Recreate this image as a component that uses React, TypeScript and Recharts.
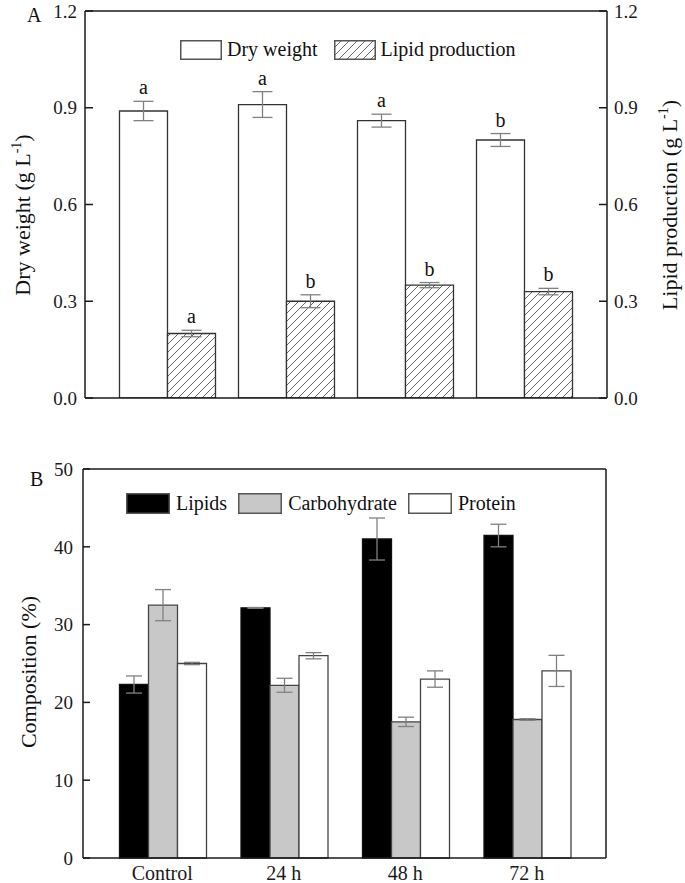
import React from 'react';
import { ComposedChart, Bar, XAxis, YAxis, ErrorBar, LabelList, Legend } from 'recharts';

const categories = ['Control', '24 h', '48 h', '72 h'];

const dryWeight = [0.89, 0.91, 0.86, 0.8];
const dryWeightErr = [0.03, 0.04, 0.02, 0.02];
const dryWeightLetters = ['a', 'a', 'a', 'b'];

const lipidProduction = [0.2, 0.3, 0.35, 0.33];
const lipidProductionErr = [0.01, 0.02, 0.008, 0.01];
const lipidProductionLetters = ['a', 'b', 'b', 'b'];

const lipids = [22.3, 32.15, 41.0, 41.45];
const lipidsErr = [1.1, 0.05, 2.7, 1.45];
const carbohydrate = [32.5, 22.2, 17.5, 17.8];
const carbohydrateErr = [2.0, 0.9, 0.6, 0.1];
const protein = [25.0, 26.0, 23.0, 24.05];
const proteinErr = [0.15, 0.4, 1.05, 2.0];

const ticksA = [0, 0.3, 0.6, 0.9, 1.2];
const ticksB = [0, 10, 20, 30, 40, 50];

const seriesNamesA = ['Dry weight', 'Lipid production'];
const seriesNamesB = ['Lipids', 'Carbohydrate', 'Protein'];

const dataA = categories.map((cat, i) => ({
  cat,
  dw: dryWeight[i],
  dwErr: dryWeightErr[i],
  lp: lipidProduction[i],
  lpErr: lipidProductionErr[i],
}));

const dataB = categories.map((cat, i) => ({
  cat,
  lipids: lipids[i],
  lipidsErr: lipidsErr[i],
  carb: carbohydrate[i],
  carbErr: carbohydrateErr[i],
  protein: protein[i],
  proteinErr: proteinErr[i],
}));

const FONT = 'Liberation Serif, serif';
const AXIS = '#1a1a1a';
const ERR = '#808080';

const makeLetterLabel = (letters: string[], errs: number[]) => (props: any) => {
  const { x, y, width, height, value, index } = props;
  if (value == null || !height) return null;
  const pxPerUnit = Number(height) / Number(value);
  const top = Number(y) - errs[index] * pxPerUnit;
  return (
    <text
      x={Number(x) + Number(width) / 2}
      y={top - 7}
      textAnchor="middle"
      fontFamily={FONT}
      fontSize={20}
      fill="#111"
    >
      {letters[index]}
    </text>
  );
};

const Swatch = ({ w, h, fill, hatch }: { w: number; h: number; fill: string; hatch?: boolean }) => (
  <svg width={w} height={h} style={{ display: 'block' }}>
    {hatch && (
      <defs>
        <pattern id="hatchLegend" patternUnits="userSpaceOnUse" width="8" height="8">
          <rect width="8" height="8" fill="#fff" />
          <path d="M0,8 L8,0 M-2,2 L2,-2 M6,10 L10,6" stroke="#555" strokeWidth="0.9" />
        </pattern>
      </defs>
    )}
    <rect x={0.75} y={0.75} width={w - 1.5} height={h - 1.5} fill={hatch ? 'url(#hatchLegend)' : fill} stroke="#555" strokeWidth={1.5} />
  </svg>
);

const LegendA = () => (
  <div style={{ display: 'flex', alignItems: 'center', fontFamily: FONT, fontSize: 20, color: '#111', whiteSpace: 'nowrap' }}>
    <Swatch w={42} h={20} fill="#fff" />
    <span style={{ marginLeft: 5, marginRight: 16 }}>{seriesNamesA[0]}</span>
    <Swatch w={42} h={20} fill="#fff" hatch />
    <span style={{ marginLeft: 5 }}>{seriesNamesA[1]}</span>
  </div>
);

const LegendB = () => (
  <div style={{ display: 'flex', alignItems: 'center', fontFamily: FONT, fontSize: 20, color: '#111', whiteSpace: 'nowrap' }}>
    <Swatch w={44} h={21} fill="#000" />
    <span style={{ marginLeft: 6, marginRight: 11 }}>{seriesNamesB[0]}</span>
    <Swatch w={44} h={21} fill="#c8c8c8" />
    <span style={{ marginLeft: 6, marginRight: 11 }}>{seriesNamesB[1]}</span>
    <Swatch w={44} h={21} fill="#fff" />
    <span style={{ marginLeft: 6 }}>{seriesNamesB[2]}</span>
  </div>
);

const tickStyle = { fontSize: 19, fill: '#1a1a1a', fontFamily: FONT };
const axisLine = { stroke: AXIS, strokeWidth: 1.5 };

export default function App() {
  return (
    <div style={{ position: 'absolute', left: 0, top: 0, width: 685, height: 883, background: '#fff', fontFamily: FONT }}>
      <div style={{ position: 'absolute', left: 0, top: 0 }}>
        <ComposedChart
          width={685}
          height={415}
          data={dataA}
          margin={{ top: 10, right: 18, bottom: 16, left: 25 }}
          barCategoryGap={11.5}
          barGap={0}
        >
          <defs>
            <pattern id="hatchA" patternUnits="userSpaceOnUse" width="8" height="8">
              <rect width="8" height="8" fill="#fff" />
              <path d="M0,8 L8,0 M-2,2 L2,-2 M6,10 L10,6" stroke="#555" strokeWidth="0.9" />
            </pattern>
          </defs>
          <XAxis
            dataKey="cat"
            padding={{ left: 23, right: 23 }}
            tick={false}
            tickLine={false}
            height={1}
            axisLine={axisLine}
          />
          <XAxis
            xAxisId="top"
            dataKey="cat"
            orientation="top"
            padding={{ left: 23, right: 23 }}
            tick={false}
            tickLine={false}
            height={1}
            axisLine={axisLine}
          />
          <YAxis
            yAxisId="left"
            domain={[0, 1.2]}
            ticks={ticksA}
            tickFormatter={(v: number) => v.toFixed(1)}
            width={60}
            tickSize={-8}
            tickMargin={16}
            tick={tickStyle}
            tickLine={axisLine}
            axisLine={axisLine}
            allowDataOverflow
          />
          <YAxis
            yAxisId="right"
            orientation="right"
            domain={[0, 1.2]}
            ticks={ticksA}
            tickFormatter={(v: number) => v.toFixed(1)}
            width={60}
            tickSize={-8}
            tickMargin={15}
            tick={tickStyle}
            tickLine={axisLine}
            axisLine={axisLine}
            allowDataOverflow
          />
          <Legend
            layout="horizontal"
            verticalAlign="middle"
            align="center"
            content={LegendA}
            wrapperStyle={{ top: 38, left: 180, width: 'auto' }}
          />
          <Bar yAxisId="left" dataKey="dw" name={seriesNamesA[0]} fill="#fff" stroke="#333" strokeWidth={1.3} isAnimationActive={false}>
            <ErrorBar dataKey="dwErr" width={10} stroke={ERR} strokeWidth={1.3} />
            <LabelList dataKey="dw" content={makeLetterLabel(dryWeightLetters, dryWeightErr)} />
          </Bar>
          <Bar yAxisId="right" dataKey="lp" name={seriesNamesA[1]} fill="url(#hatchA)" stroke="#333" strokeWidth={1.3} isAnimationActive={false}>
            <ErrorBar dataKey="lpErr" width={10} stroke={ERR} strokeWidth={1.3} />
            <LabelList dataKey="lp" content={makeLetterLabel(lipidProductionLetters, lipidProductionErr)} />
          </Bar>
        </ComposedChart>
      </div>

      <div style={{ position: 'absolute', left: 0, top: 420 }}>
        <ComposedChart
          width={685}
          height={463}
          data={dataB}
          margin={{ top: 48, right: 78, bottom: 0, left: 23 }}
          barCategoryGap={18}
          barGap={0}
        >
          <XAxis
            dataKey="cat"
            padding={{ left: 18.5, right: 18.5 }}
            tickLine={false}
            tickSize={0}
            tickMargin={8}
            height={25}
            tick={{ fontSize: 20, fill: '#1a1a1a', fontFamily: FONT }}
            axisLine={axisLine}
          />
          <XAxis
            xAxisId="top"
            dataKey="cat"
            orientation="top"
            padding={{ left: 18.5, right: 18.5 }}
            tick={false}
            tickLine={false}
            height={1}
            axisLine={axisLine}
          />
          <YAxis
            domain={[0, 50]}
            ticks={ticksB}
            width={60}
            tickSize={-7}
            tickMargin={17}
            tick={tickStyle}
            tickLine={axisLine}
            axisLine={axisLine}
          />
          <YAxis
            yAxisId="r"
            orientation="right"
            domain={[0, 50]}
            width={1}
            tick={false}
            tickLine={false}
            axisLine={axisLine}
          />
          <Legend
            layout="horizontal"
            verticalAlign="middle"
            align="center"
            content={LegendB}
            wrapperStyle={{ top: 72, left: 126, width: 'auto' }}
          />
          <Bar dataKey="lipids" name={seriesNamesB[0]} fill="#000" stroke="#111" strokeWidth={1.3} isAnimationActive={false}>
            <ErrorBar dataKey="lipidsErr" width={8} stroke={ERR} strokeWidth={1.3} />
          </Bar>
          <Bar dataKey="carb" name={seriesNamesB[1]} fill="#c8c8c8" stroke="#444" strokeWidth={1.3} isAnimationActive={false}>
            <ErrorBar dataKey="carbErr" width={8} stroke={ERR} strokeWidth={1.3} />
          </Bar>
          <Bar dataKey="protein" name={seriesNamesB[2]} fill="#fff" stroke="#444" strokeWidth={1.3} isAnimationActive={false}>
            <ErrorBar dataKey="proteinErr" width={8} stroke={ERR} strokeWidth={1.3} />
          </Bar>
        </ComposedChart>
      </div>

      <svg width={685} height={883} style={{ position: 'absolute', left: 0, top: 0, pointerEvents: 'none' }}>
        <g fontFamily={FONT} fill="#111">
          <text x={27} y={22} fontSize={20}>A</text>
          <text x={30} y={486} fontSize={20}>B</text>
          <text transform="translate(30,215) rotate(-90)" textAnchor="middle" fontSize={22}>
            Dry weight (g L<tspan dy={-9} fontSize={14}>-1</tspan><tspan dy={9}>)</tspan>
          </text>
          <text transform="translate(677,205) rotate(-90)" textAnchor="middle" fontSize={22}>
            Lipid production (g L<tspan dy={-9} fontSize={14}>-1</tspan><tspan dy={9}>)</tspan>
          </text>
          <text transform="translate(36,672) rotate(-90)" textAnchor="middle" fontSize={22}>
            Composition (%)
          </text>
        </g>
      </svg>
    </div>
  );
}
